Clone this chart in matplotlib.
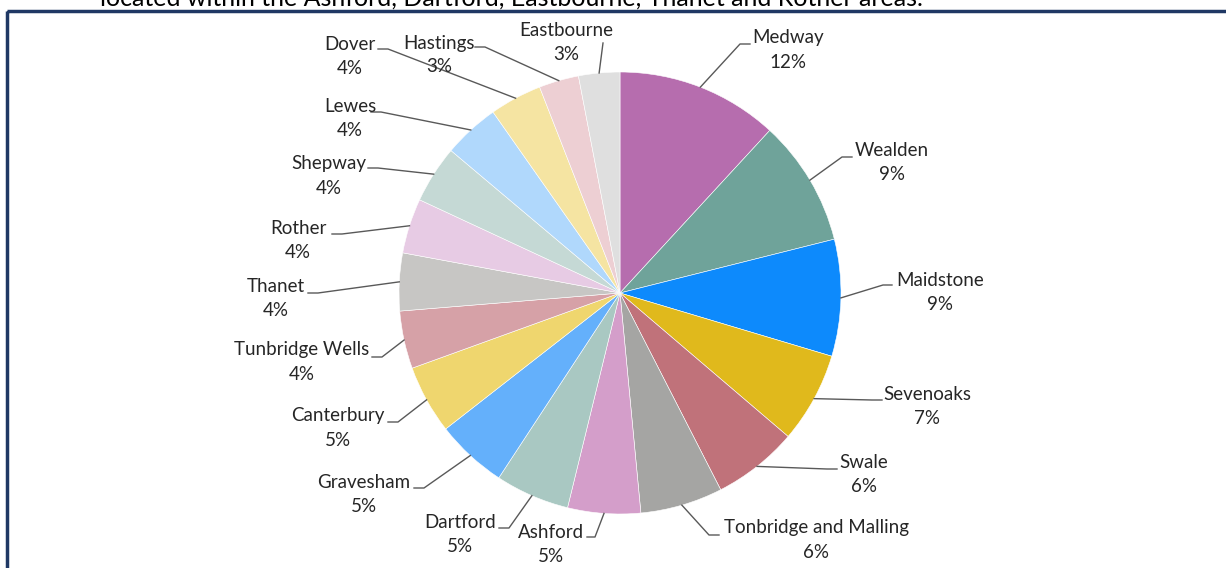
import matplotlib
matplotlib.use("Agg")
import matplotlib.pyplot as plt
import numpy as np
from matplotlib.patches import Rectangle

# District shares (percent)
districts = ["Medway", "Wealden", "Maidstone", "Sevenoaks", "Swale",
             "Tonbridge and Malling", "Ashford", "Dartford", "Gravesham",
             "Canterbury", "Tunbridge Wells", "Thanet", "Rother", "Shepway",
             "Lewes", "Dover", "Hastings", "Eastbourne"]
shares = [11.8, 9.2, 8.5, 6.6, 6.2, 6.0, 5.3, 5.4, 5.2, 5.0,
          4.2, 4.2, 4.0, 4.2, 4.1, 3.8, 2.9, 3.0]
colors = ["#B66DAE", "#6FA39A", "#0D8AFC", "#E0B91C", "#C0727A",
          "#A5A5A3", "#D49ECA", "#A9C8C2", "#64B0FB", "#EFD66E",
          "#D6A1A7", "#C7C6C4", "#E7CBE4", "#C5D9D5", "#B0D8FC",
          "#F5E4A2", "#EDCFD3", "#DFDFDF"]

# label layout in pixels: text centre, leader end next to text, leader elbow
text_pos = [(788, 38), (892, 151), (940, 280), (927, 394), (864, 463),
            (816, 528), (551, 533), (460, 523), (364, 483), (338, 416),
            (302, 350), (276, 287), (298, 229), (329, 164), (350, 107),
            (350, 45), (439, 43), (566, 30)]
lead_end = [(750, 44), (852, 157), (892, 285), (882, 400), (837, 469),
            (719, 535), (587, 537), (499, 528), (414, 488), (388, 422),
            (372, 357), (308, 293), (332, 234), (368, 168), (371, 112),
            (378, 49), (475, 47), (603, 43)]
lead_elbow = [(740, 44), (842, 157), (883, 285), (872, 400), (827, 469),
              (709, 535), (595, 537), (509, 528), (424, 488), (398, 422),
              (382, 357), (318, 293), (342, 234), (378, 168), (381, 112),
              (388, 49), (485, 47), (603, 43)]

plt.rcParams['font.family'] = ['Lato', 'DejaVu Sans']

fig = plt.figure(figsize=(12.26, 5.68), dpi=100)
ax = fig.add_axes([0, 0, 1, 1])

cx, cy, r = 620, 293, 221
wedges, _ = ax.pie(shares, colors=colors, startangle=-90, counterclock=True,
                   center=(cx, cy), radius=r, frame=True,
                   wedgeprops=dict(edgecolor='white', linewidth=0.4))
ax.set_xlim(0, 1226)
ax.set_ylim(568, 0)
ax.set_aspect('equal')
ax.axis('off')

total = sum(shares)
for i, w in enumerate(wedges):
    mid = np.deg2rad((w.theta1 + w.theta2) / 2)
    ex, ey = cx + r * np.cos(mid), cy + r * np.sin(mid)
    ax.plot([ex, lead_elbow[i][0], lead_end[i][0]],
            [ey, lead_elbow[i][1], lead_end[i][1]],
            color='#595959', linewidth=1.0)
    tx, ty = text_pos[i]
    pct = round(shares[i] / total * 100)
    ax.text(tx, ty, districts[i], ha='center', va='center', fontsize=13.5, color='#262626')
    ax.text(tx, ty + 24, f"{pct}%", ha='center', va='center', fontsize=13.5, color='#262626')

# chart frame and clipped caption above it
ax.add_patch(Rectangle((7, 11), 1300, 700, fill=False, edgecolor='#1F3864',
                       linewidth=2.5, clip_on=False))
ax.text(100, 6, "located within the Ashford, Dartford, Eastbourne, Thanet and Rother areas.",
        ha='left', va='baseline', fontsize=18, color='black')

fig.savefig("out.png", dpi=100)
plt.close()
